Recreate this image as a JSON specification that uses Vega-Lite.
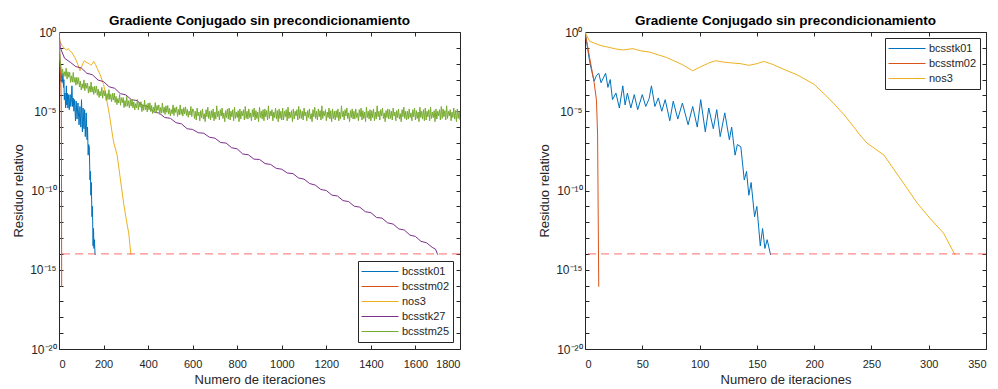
{
  "$schema": "https://vega.github.io/schema/vega-lite/v6.json",
  "padding": {"left": 12, "top": 13, "right": 0, "bottom": 0},
  "background": "white",
  "datasets": {
    "tol": [{"tol": 1e-14}],
    "res": [
      {"serie": "bcsstk01", "it": 0, "res": 1},
      {"serie": "bcsstk01", "it": 2, "res": 0.126},
      {"serie": "bcsstk01", "it": 4, "res": 1.4e-2},
      {"serie": "bcsstk01", "it": 6, "res": 3.2e-3},
      {"serie": "bcsstk01", "it": 8, "res": 7.9e-4},
      {"serie": "bcsstk01", "it": 10, "res": 1.8e-3},
      {"serie": "bcsstk01", "it": 12, "res": 2.5e-3},
      {"serie": "bcsstk01", "it": 14, "res": 6.3e-4},
      {"serie": "bcsstk01", "it": 16, "res": 1.26e-3},
      {"serie": "bcsstk01", "it": 18, "res": 2.5e-3},
      {"serie": "bcsstk01", "it": 20, "res": 3.2e-4},
      {"serie": "bcsstk01", "it": 22, "res": 1.0e-3},
      {"serie": "bcsstk01", "it": 24, "res": 5.4e-5},
      {"serie": "bcsstk01", "it": 27, "res": 1.4e-4},
      {"serie": "bcsstk01", "it": 30, "res": 1.6e-5},
      {"serie": "bcsstk01", "it": 33, "res": 4.0e-4},
      {"serie": "bcsstk01", "it": 35, "res": 2.5e-5},
      {"serie": "bcsstk01", "it": 37, "res": 1.4e-4},
      {"serie": "bcsstk01", "it": 40, "res": 1.6e-5},
      {"serie": "bcsstk01", "it": 43, "res": 1.12e-4},
      {"serie": "bcsstk01", "it": 46, "res": 1.26e-5},
      {"serie": "bcsstk01", "it": 50, "res": 1.12e-4},
      {"serie": "bcsstk01", "it": 53, "res": 2.0e-5},
      {"serie": "bcsstk01", "it": 56, "res": 6.3e-5},
      {"serie": "bcsstk01", "it": 58, "res": 4.0e-4},
      {"serie": "bcsstk01", "it": 61, "res": 2.0e-5},
      {"serie": "bcsstk01", "it": 64, "res": 6.9e-5},
      {"serie": "bcsstk01", "it": 67, "res": 1.0e-5},
      {"serie": "bcsstk01", "it": 70, "res": 5.4e-5},
      {"serie": "bcsstk01", "it": 74, "res": 2.5e-6},
      {"serie": "bcsstk01", "it": 77, "res": 4.3e-5},
      {"serie": "bcsstk01", "it": 81, "res": 3.2e-6},
      {"serie": "bcsstk01", "it": 85, "res": 3.3e-5},
      {"serie": "bcsstk01", "it": 90, "res": 1.4e-6},
      {"serie": "bcsstk01", "it": 94, "res": 2.0e-5},
      {"serie": "bcsstk01", "it": 98, "res": 1.0e-6},
      {"serie": "bcsstk01", "it": 101, "res": 5.4e-5},
      {"serie": "bcsstk01", "it": 105, "res": 5.0e-7},
      {"serie": "bcsstk01", "it": 108, "res": 1.6e-5},
      {"serie": "bcsstk01", "it": 112, "res": 7.9e-7},
      {"serie": "bcsstk01", "it": 115, "res": 1.26e-5},
      {"serie": "bcsstk01", "it": 118, "res": 2.5e-7},
      {"serie": "bcsstk01", "it": 122, "res": 7.9e-6},
      {"serie": "bcsstk01", "it": 126, "res": 1.6e-7},
      {"serie": "bcsstk01", "it": 128, "res": 1.0e-6},
      {"serie": "bcsstk01", "it": 131, "res": 1.7e-8},
      {"serie": "bcsstk01", "it": 133, "res": 7.9e-8},
      {"serie": "bcsstk01", "it": 136, "res": 5.8e-8},
      {"serie": "bcsstk01", "it": 139, "res": 4.6e-10},
      {"serie": "bcsstk01", "it": 141, "res": 1.6e-9},
      {"serie": "bcsstk01", "it": 143, "res": 5.0e-11},
      {"serie": "bcsstk01", "it": 145, "res": 3.2e-10},
      {"serie": "bcsstk01", "it": 148, "res": 2.2e-12},
      {"serie": "bcsstk01", "it": 150, "res": 1.0e-11},
      {"serie": "bcsstk01", "it": 153, "res": 3.2e-14},
      {"serie": "bcsstk01", "it": 155, "res": 4.0e-13},
      {"serie": "bcsstk01", "it": 157, "res": 2.2e-14},
      {"serie": "bcsstk01", "it": 159, "res": 7.9e-14},
      {"serie": "bcsstk01", "it": 162, "res": 8.5e-15},
      {"serie": "bcsstm02", "it": 0, "res": 1},
      {"serie": "bcsstm02", "it": 2, "res": 0.16},
      {"serie": "bcsstm02", "it": 4, "res": 2.5e-2},
      {"serie": "bcsstm02", "it": 6, "res": 4.0e-3},
      {"serie": "bcsstm02", "it": 8, "res": 6.3e-4},
      {"serie": "bcsstm02", "it": 10, "res": 5.0e-5},
      {"serie": "bcsstm02", "it": 11, "res": 3.2e-7},
      {"serie": "bcsstm02", "it": 12, "res": 8.5e-17},
      {"serie": "nos3", "it": 0, "res": 1},
      {"serie": "nos3", "it": 4, "res": 0.26},
      {"serie": "nos3", "it": 13, "res": 0.145},
      {"serie": "nos3", "it": 27, "res": 8.5e-2},
      {"serie": "nos3", "it": 33, "res": 7.4e-2},
      {"serie": "nos3", "it": 42, "res": 8.9e-2},
      {"serie": "nos3", "it": 48, "res": 6.6e-2},
      {"serie": "nos3", "it": 56, "res": 5.5e-2},
      {"serie": "nos3", "it": 71, "res": 2.5e-2},
      {"serie": "nos3", "it": 85, "res": 8.7e-3},
      {"serie": "nos3", "it": 94, "res": 3.6e-3},
      {"serie": "nos3", "it": 100, "res": 5.9e-3},
      {"serie": "nos3", "it": 108, "res": 1.1e-2},
      {"serie": "nos3", "it": 114, "res": 1.55e-2},
      {"serie": "nos3", "it": 121, "res": 1.26e-2},
      {"serie": "nos3", "it": 129, "res": 1.1e-2},
      {"serie": "nos3", "it": 136, "res": 1.0e-2},
      {"serie": "nos3", "it": 143, "res": 7.9e-3},
      {"serie": "nos3", "it": 150, "res": 1.0e-2},
      {"serie": "nos3", "it": 156, "res": 1.4e-2},
      {"serie": "nos3", "it": 164, "res": 8.9e-3},
      {"serie": "nos3", "it": 172, "res": 4.9e-3},
      {"serie": "nos3", "it": 185, "res": 2.0e-3},
      {"serie": "nos3", "it": 200, "res": 5.0e-4},
      {"serie": "nos3", "it": 213, "res": 6.3e-5},
      {"serie": "nos3", "it": 226, "res": 6.3e-6},
      {"serie": "nos3", "it": 240, "res": 3.2e-7},
      {"serie": "nos3", "it": 246, "res": 1.0e-7},
      {"serie": "nos3", "it": 261, "res": 1.7e-8},
      {"serie": "nos3", "it": 267, "res": 4.0e-9},
      {"serie": "nos3", "it": 281, "res": 1.4e-10},
      {"serie": "nos3", "it": 290, "res": 1.6e-11},
      {"serie": "nos3", "it": 301, "res": 1.8e-12},
      {"serie": "nos3", "it": 313, "res": 2.0e-13},
      {"serie": "nos3", "it": 323, "res": 8.5e-15},
      {"serie": "bcsstk27", "it": 0, "res": 1},
      {"serie": "bcsstk27", "it": 6, "res": 0.1},
      {"serie": "bcsstk27", "it": 25, "res": 2.2e-2},
      {"serie": "bcsstk27", "it": 50, "res": 1.26e-2},
      {"serie": "bcsstk27", "it": 75, "res": 6.6e-3},
      {"serie": "bcsstk27", "it": 100, "res": 5.4e-3},
      {"serie": "bcsstk27", "it": 125, "res": 2.5e-3},
      {"serie": "bcsstk27", "it": 150, "res": 2.0e-3},
      {"serie": "bcsstk27", "it": 175, "res": 9.3e-4},
      {"serie": "bcsstk27", "it": 200, "res": 7.4e-4},
      {"serie": "bcsstk27", "it": 225, "res": 3.5e-4},
      {"serie": "bcsstk27", "it": 250, "res": 2.8e-4},
      {"serie": "bcsstk27", "it": 275, "res": 1.3e-4},
      {"serie": "bcsstk27", "it": 300, "res": 1.07e-4},
      {"serie": "bcsstk27", "it": 325, "res": 5.4e-5},
      {"serie": "bcsstk27", "it": 350, "res": 4.7e-5},
      {"serie": "bcsstk27", "it": 375, "res": 2.4e-5},
      {"serie": "bcsstk27", "it": 400, "res": 1.95e-5},
      {"serie": "bcsstk27", "it": 425, "res": 9.1e-6},
      {"serie": "bcsstk27", "it": 450, "res": 7.6e-6},
      {"serie": "bcsstk27", "it": 475, "res": 4.0e-6},
      {"serie": "bcsstk27", "it": 500, "res": 3.6e-6},
      {"serie": "bcsstk27", "it": 525, "res": 1.9e-6},
      {"serie": "bcsstk27", "it": 550, "res": 1.6e-6},
      {"serie": "bcsstk27", "it": 575, "res": 7.9e-7},
      {"serie": "bcsstk27", "it": 600, "res": 7.1e-7},
      {"serie": "bcsstk27", "it": 625, "res": 4.4e-7},
      {"serie": "bcsstk27", "it": 650, "res": 4.1e-7},
      {"serie": "bcsstk27", "it": 675, "res": 2.3e-7},
      {"serie": "bcsstk27", "it": 700, "res": 2.0e-7},
      {"serie": "bcsstk27", "it": 725, "res": 1.07e-7},
      {"serie": "bcsstk27", "it": 750, "res": 9.8e-8},
      {"serie": "bcsstk27", "it": 775, "res": 5.0e-8},
      {"serie": "bcsstk27", "it": 800, "res": 4.2e-8},
      {"serie": "bcsstk27", "it": 825, "res": 2.0e-8},
      {"serie": "bcsstk27", "it": 850, "res": 1.8e-8},
      {"serie": "bcsstk27", "it": 875, "res": 9.5e-9},
      {"serie": "bcsstk27", "it": 900, "res": 9.1e-9},
      {"serie": "bcsstk27", "it": 925, "res": 5.0e-9},
      {"serie": "bcsstk27", "it": 950, "res": 4.4e-9},
      {"serie": "bcsstk27", "it": 975, "res": 2.5e-9},
      {"serie": "bcsstk27", "it": 1000, "res": 2.2e-9},
      {"serie": "bcsstk27", "it": 1025, "res": 1.26e-9},
      {"serie": "bcsstk27", "it": 1050, "res": 1.17e-9},
      {"serie": "bcsstk27", "it": 1075, "res": 6.2e-10},
      {"serie": "bcsstk27", "it": 1100, "res": 5.2e-10},
      {"serie": "bcsstk27", "it": 1125, "res": 2.75e-10},
      {"serie": "bcsstk27", "it": 1150, "res": 2.2e-10},
      {"serie": "bcsstk27", "it": 1175, "res": 1.17e-10},
      {"serie": "bcsstk27", "it": 1200, "res": 1.0e-10},
      {"serie": "bcsstk27", "it": 1225, "res": 5.1e-11},
      {"serie": "bcsstk27", "it": 1250, "res": 4.5e-11},
      {"serie": "bcsstk27", "it": 1275, "res": 2.3e-11},
      {"serie": "bcsstk27", "it": 1300, "res": 2.0e-11},
      {"serie": "bcsstk27", "it": 1325, "res": 1.02e-11},
      {"serie": "bcsstk27", "it": 1350, "res": 8.9e-12},
      {"serie": "bcsstk27", "it": 1375, "res": 4.6e-12},
      {"serie": "bcsstk27", "it": 1400, "res": 4.0e-12},
      {"serie": "bcsstk27", "it": 1425, "res": 2.0e-12},
      {"serie": "bcsstk27", "it": 1450, "res": 1.8e-12},
      {"serie": "bcsstk27", "it": 1475, "res": 9.1e-13},
      {"serie": "bcsstk27", "it": 1500, "res": 7.6e-13},
      {"serie": "bcsstk27", "it": 1525, "res": 3.8e-13},
      {"serie": "bcsstk27", "it": 1550, "res": 3.2e-13},
      {"serie": "bcsstk27", "it": 1575, "res": 1.55e-13},
      {"serie": "bcsstk27", "it": 1600, "res": 1.26e-13},
      {"serie": "bcsstk27", "it": 1625, "res": 6.2e-14},
      {"serie": "bcsstk27", "it": 1650, "res": 5.0e-14},
      {"serie": "bcsstk27", "it": 1675, "res": 2.6e-14},
      {"serie": "bcsstk27", "it": 1690, "res": 2.0e-14},
      {"serie": "bcsstk27", "it": 1700, "res": 8.9e-15},
      {"serie": "bcsstm25", "it": 0, "res": 1},
      {"serie": "bcsstm25", "it": 4, "res": 2.0e-2},
      {"serie": "bcsstm25", "it": 8, "res": 7.9e-3},
      {"serie": "bcsstm25", "it": 12, "res": 2.0e-3},
      {"serie": "bcsstm25", "it": 16, "res": 4.7e-3},
      {"serie": "bcsstm25", "it": 20, "res": 1.35e-3},
      {"serie": "bcsstm25", "it": 24, "res": 3.1e-3},
      {"serie": "bcsstm25", "it": 28, "res": 1.6e-3},
      {"serie": "bcsstm25", "it": 32, "res": 5.2e-3},
      {"serie": "bcsstm25", "it": 36, "res": 1.07e-3},
      {"serie": "bcsstm25", "it": 40, "res": 3.1e-3},
      {"serie": "bcsstm25", "it": 44, "res": 1.4e-3},
      {"serie": "bcsstm25", "it": 48, "res": 2.9e-3},
      {"serie": "bcsstm25", "it": 52, "res": 6.6e-4},
      {"serie": "bcsstm25", "it": 56, "res": 1.7e-3},
      {"serie": "bcsstm25", "it": 60, "res": 6.9e-4},
      {"serie": "bcsstm25", "it": 64, "res": 2.8e-3},
      {"serie": "bcsstm25", "it": 68, "res": 6.6e-4},
      {"serie": "bcsstm25", "it": 72, "res": 1.35e-3},
      {"serie": "bcsstm25", "it": 76, "res": 4.4e-4},
      {"serie": "bcsstm25", "it": 80, "res": 1.4e-3},
      {"serie": "bcsstm25", "it": 84, "res": 5.1e-4},
      {"serie": "bcsstm25", "it": 88, "res": 1.3e-3},
      {"serie": "bcsstm25", "it": 92, "res": 3.4e-4},
      {"serie": "bcsstm25", "it": 96, "res": 7.8e-4},
      {"serie": "bcsstm25", "it": 100, "res": 2.2e-4},
      {"serie": "bcsstm25", "it": 104, "res": 5.4e-4},
      {"serie": "bcsstm25", "it": 108, "res": 2.8e-4},
      {"serie": "bcsstm25", "it": 112, "res": 9.5e-4},
      {"serie": "bcsstm25", "it": 116, "res": 2.0e-4},
      {"serie": "bcsstm25", "it": 120, "res": 6.0e-4},
      {"serie": "bcsstm25", "it": 124, "res": 2.8e-4},
      {"serie": "bcsstm25", "it": 128, "res": 6.0e-4},
      {"serie": "bcsstm25", "it": 132, "res": 1.4e-4},
      {"serie": "bcsstm25", "it": 136, "res": 3.8e-4},
      {"serie": "bcsstm25", "it": 140, "res": 1.6e-4},
      {"serie": "bcsstm25", "it": 144, "res": 6.9e-4},
      {"serie": "bcsstm25", "it": 148, "res": 1.6e-4},
      {"serie": "bcsstm25", "it": 152, "res": 3.5e-4},
      {"serie": "bcsstm25", "it": 156, "res": 1.15e-4},
      {"serie": "bcsstm25", "it": 160, "res": 3.9e-4},
      {"serie": "bcsstm25", "it": 164, "res": 1.45e-4},
      {"serie": "bcsstm25", "it": 168, "res": 3.9e-4},
      {"serie": "bcsstm25", "it": 172, "res": 1.02e-4},
      {"serie": "bcsstm25", "it": 176, "res": 2.5e-4},
      {"serie": "bcsstm25", "it": 180, "res": 7.4e-5},
      {"serie": "bcsstm25", "it": 184, "res": 1.8e-4},
      {"serie": "bcsstm25", "it": 188, "res": 9.3e-5},
      {"serie": "bcsstm25", "it": 192, "res": 3.2e-4},
      {"serie": "bcsstm25", "it": 196, "res": 6.6e-5},
      {"serie": "bcsstm25", "it": 200, "res": 2.0e-4},
      {"serie": "bcsstm25", "it": 204, "res": 9.5e-5},
      {"serie": "bcsstm25", "it": 208, "res": 2.0e-4},
      {"serie": "bcsstm25", "it": 212, "res": 4.8e-5},
      {"serie": "bcsstm25", "it": 216, "res": 1.3e-4},
      {"serie": "bcsstm25", "it": 220, "res": 5.5e-5},
      {"serie": "bcsstm25", "it": 224, "res": 2.3e-4},
      {"serie": "bcsstm25", "it": 228, "res": 5.5e-5},
      {"serie": "bcsstm25", "it": 232, "res": 1.17e-4},
      {"serie": "bcsstm25", "it": 236, "res": 4.0e-5},
      {"serie": "bcsstm25", "it": 240, "res": 1.35e-4},
      {"serie": "bcsstm25", "it": 244, "res": 5.1e-5},
      {"serie": "bcsstm25", "it": 248, "res": 1.4e-4},
      {"serie": "bcsstm25", "it": 252, "res": 3.6e-5},
      {"serie": "bcsstm25", "it": 256, "res": 8.7e-5},
      {"serie": "bcsstm25", "it": 260, "res": 2.6e-5},
      {"serie": "bcsstm25", "it": 264, "res": 6.3e-5},
      {"serie": "bcsstm25", "it": 268, "res": 3.3e-5},
      {"serie": "bcsstm25", "it": 272, "res": 1.12e-4},
      {"serie": "bcsstm25", "it": 276, "res": 2.4e-5},
      {"serie": "bcsstm25", "it": 280, "res": 7.2e-5},
      {"serie": "bcsstm25", "it": 284, "res": 3.5e-5},
      {"serie": "bcsstm25", "it": 288, "res": 7.4e-5},
      {"serie": "bcsstm25", "it": 292, "res": 1.7e-5},
      {"serie": "bcsstm25", "it": 296, "res": 4.7e-5},
      {"serie": "bcsstm25", "it": 300, "res": 2.0e-5},
      {"serie": "bcsstm25", "it": 304, "res": 8.7e-5},
      {"serie": "bcsstm25", "it": 308, "res": 2.1e-5},
      {"serie": "bcsstm25", "it": 312, "res": 4.6e-5},
      {"serie": "bcsstm25", "it": 316, "res": 1.6e-5},
      {"serie": "bcsstm25", "it": 320, "res": 5.5e-5},
      {"serie": "bcsstm25", "it": 324, "res": 2.1e-5},
      {"serie": "bcsstm25", "it": 328, "res": 5.9e-5},
      {"serie": "bcsstm25", "it": 332, "res": 1.6e-5},
      {"serie": "bcsstm25", "it": 336, "res": 3.9e-5},
      {"serie": "bcsstm25", "it": 340, "res": 1.2e-5},
      {"serie": "bcsstm25", "it": 344, "res": 3.0e-5},
      {"serie": "bcsstm25", "it": 348, "res": 1.6e-5},
      {"serie": "bcsstm25", "it": 352, "res": 5.5e-5},
      {"serie": "bcsstm25", "it": 356, "res": 1.2e-5},
      {"serie": "bcsstm25", "it": 360, "res": 3.7e-5},
      {"serie": "bcsstm25", "it": 364, "res": 1.8e-5},
      {"serie": "bcsstm25", "it": 368, "res": 4.0e-5},
      {"serie": "bcsstm25", "it": 372, "res": 9.5e-6},
      {"serie": "bcsstm25", "it": 376, "res": 2.6e-5},
      {"serie": "bcsstm25", "it": 380, "res": 1.15e-5},
      {"serie": "bcsstm25", "it": 384, "res": 5.0e-5},
      {"serie": "bcsstm25", "it": 388, "res": 1.23e-5},
      {"serie": "bcsstm25", "it": 392, "res": 2.6e-5},
      {"serie": "bcsstm25", "it": 396, "res": 9.1e-6},
      {"serie": "bcsstm25", "it": 400, "res": 3.2e-5},
      {"serie": "bcsstm25", "it": 404, "res": 1.23e-5},
      {"serie": "bcsstm25", "it": 408, "res": 3.4e-5},
      {"serie": "bcsstm25", "it": 412, "res": 9.5e-6},
      {"serie": "bcsstm25", "it": 416, "res": 2.3e-5},
      {"serie": "bcsstm25", "it": 420, "res": 7.2e-6},
      {"serie": "bcsstm25", "it": 424, "res": 1.8e-5},
      {"serie": "bcsstm25", "it": 428, "res": 9.8e-6},
      {"serie": "bcsstm25", "it": 432, "res": 3.5e-5},
      {"serie": "bcsstm25", "it": 436, "res": 7.6e-6},
      {"serie": "bcsstm25", "it": 440, "res": 2.3e-5},
      {"serie": "bcsstm25", "it": 444, "res": 1.15e-5},
      {"serie": "bcsstm25", "it": 448, "res": 2.5e-5},
      {"serie": "bcsstm25", "it": 452, "res": 6.3e-6},
      {"serie": "bcsstm25", "it": 456, "res": 1.7e-5},
      {"serie": "bcsstm25", "it": 460, "res": 7.6e-6},
      {"serie": "bcsstm25", "it": 464, "res": 3.3e-5},
      {"serie": "bcsstm25", "it": 468, "res": 8.1e-6},
      {"serie": "bcsstm25", "it": 472, "res": 1.8e-5},
      {"serie": "bcsstm25", "it": 476, "res": 6.3e-6},
      {"serie": "bcsstm25", "it": 480, "res": 2.2e-5},
      {"serie": "bcsstm25", "it": 484, "res": 8.5e-6},
      {"serie": "bcsstm25", "it": 488, "res": 2.3e-5},
      {"serie": "bcsstm25", "it": 492, "res": 6.6e-6},
      {"serie": "bcsstm25", "it": 496, "res": 1.6e-5},
      {"serie": "bcsstm25", "it": 500, "res": 5.0e-6},
      {"serie": "bcsstm25", "it": 504, "res": 1.26e-5},
      {"serie": "bcsstm25", "it": 508, "res": 6.9e-6},
      {"serie": "bcsstm25", "it": 512, "res": 2.5e-5},
      {"serie": "bcsstm25", "it": 516, "res": 5.4e-6},
      {"serie": "bcsstm25", "it": 520, "res": 1.7e-5},
      {"serie": "bcsstm25", "it": 524, "res": 8.3e-6},
      {"serie": "bcsstm25", "it": 528, "res": 1.9e-5},
      {"serie": "bcsstm25", "it": 532, "res": 4.7e-6},
      {"serie": "bcsstm25", "it": 536, "res": 1.3e-5},
      {"serie": "bcsstm25", "it": 540, "res": 5.8e-6},
      {"serie": "bcsstm25", "it": 544, "res": 2.5e-5},
      {"serie": "bcsstm25", "it": 548, "res": 6.3e-6},
      {"serie": "bcsstm25", "it": 552, "res": 1.4e-5},
      {"serie": "bcsstm25", "it": 556, "res": 4.9e-6},
      {"serie": "bcsstm25", "it": 560, "res": 1.7e-5},
      {"serie": "bcsstm25", "it": 564, "res": 6.8e-6},
      {"serie": "bcsstm25", "it": 568, "res": 1.9e-5},
      {"serie": "bcsstm25", "it": 572, "res": 5.4e-6},
      {"serie": "bcsstm25", "it": 576, "res": 1.3e-5},
      {"serie": "bcsstm25", "it": 580, "res": 4.2e-6},
      {"serie": "bcsstm25", "it": 584, "res": 1.02e-5},
      {"serie": "bcsstm25", "it": 588, "res": 5.8e-6},
      {"serie": "bcsstm25", "it": 592, "res": 2.0e-5},
      {"serie": "bcsstm25", "it": 596, "res": 4.6e-6},
      {"serie": "bcsstm25", "it": 600, "res": 1.4e-5},
      {"serie": "bcsstm25", "it": 604, "res": 1.26e-5},
      {"serie": "bcsstm25", "it": 608, "res": 3.5e-6},
      {"serie": "bcsstm25", "it": 612, "res": 1.0e-5},
      {"serie": "bcsstm25", "it": 616, "res": 2.8e-6},
      {"serie": "bcsstm25", "it": 620, "res": 1.6e-5},
      {"serie": "bcsstm25", "it": 624, "res": 5.0e-6},
      {"serie": "bcsstm25", "it": 628, "res": 8.9e-6},
      {"serie": "bcsstm25", "it": 632, "res": 2.5e-6},
      {"serie": "bcsstm25", "it": 636, "res": 1.1e-5},
      {"serie": "bcsstm25", "it": 640, "res": 4.0e-6},
      {"serie": "bcsstm25", "it": 644, "res": 1.4e-5},
      {"serie": "bcsstm25", "it": 648, "res": 3.2e-6},
      {"serie": "bcsstm25", "it": 652, "res": 7.1e-6},
      {"serie": "bcsstm25", "it": 656, "res": 2.2e-6},
      {"serie": "bcsstm25", "it": 660, "res": 1.26e-5},
      {"serie": "bcsstm25", "it": 664, "res": 4.5e-6},
      {"serie": "bcsstm25", "it": 668, "res": 1.8e-5},
      {"serie": "bcsstm25", "it": 672, "res": 3.5e-6},
      {"serie": "bcsstm25", "it": 676, "res": 1.0e-5},
      {"serie": "bcsstm25", "it": 680, "res": 2.8e-6},
      {"serie": "bcsstm25", "it": 684, "res": 1.1e-5},
      {"serie": "bcsstm25", "it": 688, "res": 4.0e-6},
      {"serie": "bcsstm25", "it": 692, "res": 1.4e-5},
      {"serie": "bcsstm25", "it": 696, "res": 2.5e-6},
      {"serie": "bcsstm25", "it": 700, "res": 8.9e-6},
      {"serie": "bcsstm25", "it": 704, "res": 3.2e-6},
      {"serie": "bcsstm25", "it": 708, "res": 2.2e-5},
      {"serie": "bcsstm25", "it": 712, "res": 4.5e-6},
      {"serie": "bcsstm25", "it": 716, "res": 1.0e-5},
      {"serie": "bcsstm25", "it": 720, "res": 2.8e-6},
      {"serie": "bcsstm25", "it": 724, "res": 1.26e-5},
      {"serie": "bcsstm25", "it": 728, "res": 5.0e-6},
      {"serie": "bcsstm25", "it": 732, "res": 1.6e-5},
      {"serie": "bcsstm25", "it": 736, "res": 3.5e-6},
      {"serie": "bcsstm25", "it": 740, "res": 7.9e-6},
      {"serie": "bcsstm25", "it": 744, "res": 2.2e-6},
      {"serie": "bcsstm25", "it": 748, "res": 1.1e-5},
      {"serie": "bcsstm25", "it": 752, "res": 4.0e-6},
      {"serie": "bcsstm25", "it": 756, "res": 1.4e-5},
      {"serie": "bcsstm25", "it": 760, "res": 3.2e-6},
      {"serie": "bcsstm25", "it": 764, "res": 1.6e-5},
      {"serie": "bcsstm25", "it": 768, "res": 2.8e-6},
      {"serie": "bcsstm25", "it": 772, "res": 1.0e-5},
      {"serie": "bcsstm25", "it": 776, "res": 4.5e-6},
      {"serie": "bcsstm25", "it": 780, "res": 1.26e-5},
      {"serie": "bcsstm25", "it": 784, "res": 2.5e-6},
      {"serie": "bcsstm25", "it": 788, "res": 1.8e-5},
      {"serie": "bcsstm25", "it": 792, "res": 3.5e-6},
      {"serie": "bcsstm25", "it": 796, "res": 8.9e-6},
      {"serie": "bcsstm25", "it": 800, "res": 4.0e-6},
      {"serie": "bcsstm25", "it": 804, "res": 1.1e-5},
      {"serie": "bcsstm25", "it": 808, "res": 2.2e-6},
      {"serie": "bcsstm25", "it": 812, "res": 1.4e-5},
      {"serie": "bcsstm25", "it": 816, "res": 3.2e-6},
      {"serie": "bcsstm25", "it": 820, "res": 1.0e-5},
      {"serie": "bcsstm25", "it": 824, "res": 5.0e-6},
      {"serie": "bcsstm25", "it": 828, "res": 1.26e-5},
      {"serie": "bcsstm25", "it": 832, "res": 2.8e-6},
      {"serie": "bcsstm25", "it": 836, "res": 2.0e-5},
      {"serie": "bcsstm25", "it": 840, "res": 3.5e-6},
      {"serie": "bcsstm25", "it": 844, "res": 1.0e-5},
      {"serie": "bcsstm25", "it": 848, "res": 3.2e-6},
      {"serie": "bcsstm25", "it": 852, "res": 1.4e-5},
      {"serie": "bcsstm25", "it": 856, "res": 4.0e-6},
      {"serie": "bcsstm25", "it": 860, "res": 7.9e-6},
      {"serie": "bcsstm25", "it": 864, "res": 2.5e-6},
      {"serie": "bcsstm25", "it": 868, "res": 1.26e-5},
      {"serie": "bcsstm25", "it": 872, "res": 4.5e-6},
      {"serie": "bcsstm25", "it": 876, "res": 1.6e-5},
      {"serie": "bcsstm25", "it": 880, "res": 2.8e-6},
      {"serie": "bcsstm25", "it": 884, "res": 1.1e-5},
      {"serie": "bcsstm25", "it": 888, "res": 3.5e-6},
      {"serie": "bcsstm25", "it": 892, "res": 8.9e-6},
      {"serie": "bcsstm25", "it": 896, "res": 2.2e-6},
      {"serie": "bcsstm25", "it": 900, "res": 1.8e-5},
      {"serie": "bcsstm25", "it": 904, "res": 4.0e-6},
      {"serie": "bcsstm25", "it": 908, "res": 1.0e-5},
      {"serie": "bcsstm25", "it": 912, "res": 3.2e-6},
      {"serie": "bcsstm25", "it": 916, "res": 1.26e-5},
      {"serie": "bcsstm25", "it": 920, "res": 2.5e-6},
      {"serie": "bcsstm25", "it": 924, "res": 1.4e-5},
      {"serie": "bcsstm25", "it": 928, "res": 4.5e-6},
      {"serie": "bcsstm25", "it": 932, "res": 1.1e-5},
      {"serie": "bcsstm25", "it": 936, "res": 2.8e-6},
      {"serie": "bcsstm25", "it": 940, "res": 2.2e-5},
      {"serie": "bcsstm25", "it": 944, "res": 3.5e-6},
      {"serie": "bcsstm25", "it": 948, "res": 1.0e-5},
      {"serie": "bcsstm25", "it": 952, "res": 5.0e-6},
      {"serie": "bcsstm25", "it": 956, "res": 1.26e-5},
      {"serie": "bcsstm25", "it": 960, "res": 2.5e-6},
      {"serie": "bcsstm25", "it": 964, "res": 8.9e-6},
      {"serie": "bcsstm25", "it": 968, "res": 4.0e-6},
      {"serie": "bcsstm25", "it": 972, "res": 1.6e-5},
      {"serie": "bcsstm25", "it": 976, "res": 3.2e-6},
      {"serie": "bcsstm25", "it": 980, "res": 1.1e-5},
      {"serie": "bcsstm25", "it": 984, "res": 2.2e-6},
      {"serie": "bcsstm25", "it": 988, "res": 1.4e-5},
      {"serie": "bcsstm25", "it": 992, "res": 3.5e-6},
      {"serie": "bcsstm25", "it": 996, "res": 1.0e-5},
      {"serie": "bcsstm25", "it": 1000, "res": 2.8e-6},
      {"serie": "bcsstm25", "it": 1004, "res": 1.6e-5},
      {"serie": "bcsstm25", "it": 1008, "res": 2.8e-6},
      {"serie": "bcsstm25", "it": 1012, "res": 1.0e-5},
      {"serie": "bcsstm25", "it": 1016, "res": 4.5e-6},
      {"serie": "bcsstm25", "it": 1020, "res": 1.26e-5},
      {"serie": "bcsstm25", "it": 1024, "res": 2.5e-6},
      {"serie": "bcsstm25", "it": 1028, "res": 1.8e-5},
      {"serie": "bcsstm25", "it": 1032, "res": 3.5e-6},
      {"serie": "bcsstm25", "it": 1036, "res": 8.9e-6},
      {"serie": "bcsstm25", "it": 1040, "res": 4.0e-6},
      {"serie": "bcsstm25", "it": 1044, "res": 1.1e-5},
      {"serie": "bcsstm25", "it": 1048, "res": 2.2e-6},
      {"serie": "bcsstm25", "it": 1052, "res": 1.4e-5},
      {"serie": "bcsstm25", "it": 1056, "res": 3.2e-6},
      {"serie": "bcsstm25", "it": 1060, "res": 1.0e-5},
      {"serie": "bcsstm25", "it": 1064, "res": 5.0e-6},
      {"serie": "bcsstm25", "it": 1068, "res": 1.26e-5},
      {"serie": "bcsstm25", "it": 1072, "res": 2.8e-6},
      {"serie": "bcsstm25", "it": 1076, "res": 2.0e-5},
      {"serie": "bcsstm25", "it": 1080, "res": 3.5e-6},
      {"serie": "bcsstm25", "it": 1084, "res": 1.26e-5},
      {"serie": "bcsstm25", "it": 1088, "res": 3.5e-6},
      {"serie": "bcsstm25", "it": 1092, "res": 1.0e-5},
      {"serie": "bcsstm25", "it": 1096, "res": 2.8e-6},
      {"serie": "bcsstm25", "it": 1100, "res": 1.6e-5},
      {"serie": "bcsstm25", "it": 1104, "res": 5.0e-6},
      {"serie": "bcsstm25", "it": 1108, "res": 8.9e-6},
      {"serie": "bcsstm25", "it": 1112, "res": 2.5e-6},
      {"serie": "bcsstm25", "it": 1116, "res": 1.1e-5},
      {"serie": "bcsstm25", "it": 1120, "res": 4.0e-6},
      {"serie": "bcsstm25", "it": 1124, "res": 1.4e-5},
      {"serie": "bcsstm25", "it": 1128, "res": 3.2e-6},
      {"serie": "bcsstm25", "it": 1132, "res": 7.1e-6},
      {"serie": "bcsstm25", "it": 1136, "res": 2.2e-6},
      {"serie": "bcsstm25", "it": 1140, "res": 1.26e-5},
      {"serie": "bcsstm25", "it": 1144, "res": 4.5e-6},
      {"serie": "bcsstm25", "it": 1148, "res": 1.8e-5},
      {"serie": "bcsstm25", "it": 1152, "res": 3.5e-6},
      {"serie": "bcsstm25", "it": 1156, "res": 1.0e-5},
      {"serie": "bcsstm25", "it": 1160, "res": 2.8e-6},
      {"serie": "bcsstm25", "it": 1164, "res": 1.4e-5},
      {"serie": "bcsstm25", "it": 1168, "res": 4.5e-6},
      {"serie": "bcsstm25", "it": 1172, "res": 1.1e-5},
      {"serie": "bcsstm25", "it": 1176, "res": 2.8e-6},
      {"serie": "bcsstm25", "it": 1180, "res": 2.2e-5},
      {"serie": "bcsstm25", "it": 1184, "res": 3.5e-6},
      {"serie": "bcsstm25", "it": 1188, "res": 1.0e-5},
      {"serie": "bcsstm25", "it": 1192, "res": 5.0e-6},
      {"serie": "bcsstm25", "it": 1196, "res": 1.26e-5},
      {"serie": "bcsstm25", "it": 1200, "res": 2.5e-6},
      {"serie": "bcsstm25", "it": 1204, "res": 8.9e-6},
      {"serie": "bcsstm25", "it": 1208, "res": 4.0e-6},
      {"serie": "bcsstm25", "it": 1212, "res": 1.6e-5},
      {"serie": "bcsstm25", "it": 1216, "res": 3.2e-6},
      {"serie": "bcsstm25", "it": 1220, "res": 1.1e-5},
      {"serie": "bcsstm25", "it": 1224, "res": 2.2e-6},
      {"serie": "bcsstm25", "it": 1228, "res": 1.4e-5},
      {"serie": "bcsstm25", "it": 1232, "res": 3.5e-6},
      {"serie": "bcsstm25", "it": 1236, "res": 1.0e-5},
      {"serie": "bcsstm25", "it": 1240, "res": 2.8e-6},
      {"serie": "bcsstm25", "it": 1244, "res": 1.1e-5},
      {"serie": "bcsstm25", "it": 1248, "res": 4.0e-6},
      {"serie": "bcsstm25", "it": 1252, "res": 1.4e-5},
      {"serie": "bcsstm25", "it": 1256, "res": 2.5e-6},
      {"serie": "bcsstm25", "it": 1260, "res": 8.9e-6},
      {"serie": "bcsstm25", "it": 1264, "res": 3.2e-6},
      {"serie": "bcsstm25", "it": 1268, "res": 2.2e-5},
      {"serie": "bcsstm25", "it": 1272, "res": 4.5e-6},
      {"serie": "bcsstm25", "it": 1276, "res": 1.0e-5},
      {"serie": "bcsstm25", "it": 1280, "res": 2.8e-6},
      {"serie": "bcsstm25", "it": 1284, "res": 1.26e-5},
      {"serie": "bcsstm25", "it": 1288, "res": 5.0e-6},
      {"serie": "bcsstm25", "it": 1292, "res": 1.6e-5},
      {"serie": "bcsstm25", "it": 1296, "res": 3.5e-6},
      {"serie": "bcsstm25", "it": 1300, "res": 7.9e-6},
      {"serie": "bcsstm25", "it": 1304, "res": 2.2e-6},
      {"serie": "bcsstm25", "it": 1308, "res": 1.1e-5},
      {"serie": "bcsstm25", "it": 1312, "res": 4.0e-6},
      {"serie": "bcsstm25", "it": 1316, "res": 1.4e-5},
      {"serie": "bcsstm25", "it": 1320, "res": 3.2e-6},
      {"serie": "bcsstm25", "it": 1324, "res": 1.0e-5},
      {"serie": "bcsstm25", "it": 1328, "res": 3.2e-6},
      {"serie": "bcsstm25", "it": 1332, "res": 1.4e-5},
      {"serie": "bcsstm25", "it": 1336, "res": 4.0e-6},
      {"serie": "bcsstm25", "it": 1340, "res": 7.9e-6},
      {"serie": "bcsstm25", "it": 1344, "res": 2.5e-6},
      {"serie": "bcsstm25", "it": 1348, "res": 1.26e-5},
      {"serie": "bcsstm25", "it": 1352, "res": 4.5e-6},
      {"serie": "bcsstm25", "it": 1356, "res": 1.6e-5},
      {"serie": "bcsstm25", "it": 1360, "res": 2.8e-6},
      {"serie": "bcsstm25", "it": 1364, "res": 1.1e-5},
      {"serie": "bcsstm25", "it": 1368, "res": 3.5e-6},
      {"serie": "bcsstm25", "it": 1372, "res": 8.9e-6},
      {"serie": "bcsstm25", "it": 1376, "res": 2.2e-6},
      {"serie": "bcsstm25", "it": 1380, "res": 1.8e-5},
      {"serie": "bcsstm25", "it": 1384, "res": 4.0e-6},
      {"serie": "bcsstm25", "it": 1388, "res": 1.0e-5},
      {"serie": "bcsstm25", "it": 1392, "res": 3.2e-6},
      {"serie": "bcsstm25", "it": 1396, "res": 1.26e-5},
      {"serie": "bcsstm25", "it": 1400, "res": 2.5e-6},
      {"serie": "bcsstm25", "it": 1404, "res": 1.1e-5},
      {"serie": "bcsstm25", "it": 1408, "res": 4.0e-6},
      {"serie": "bcsstm25", "it": 1412, "res": 1.4e-5},
      {"serie": "bcsstm25", "it": 1416, "res": 2.5e-6},
      {"serie": "bcsstm25", "it": 1420, "res": 8.9e-6},
      {"serie": "bcsstm25", "it": 1424, "res": 3.2e-6},
      {"serie": "bcsstm25", "it": 1428, "res": 2.2e-5},
      {"serie": "bcsstm25", "it": 1432, "res": 4.5e-6},
      {"serie": "bcsstm25", "it": 1436, "res": 1.0e-5},
      {"serie": "bcsstm25", "it": 1440, "res": 2.8e-6},
      {"serie": "bcsstm25", "it": 1444, "res": 1.26e-5},
      {"serie": "bcsstm25", "it": 1448, "res": 5.0e-6},
      {"serie": "bcsstm25", "it": 1452, "res": 1.6e-5},
      {"serie": "bcsstm25", "it": 1456, "res": 3.5e-6},
      {"serie": "bcsstm25", "it": 1460, "res": 7.9e-6},
      {"serie": "bcsstm25", "it": 1464, "res": 2.2e-6},
      {"serie": "bcsstm25", "it": 1468, "res": 1.1e-5},
      {"serie": "bcsstm25", "it": 1472, "res": 4.0e-6},
      {"serie": "bcsstm25", "it": 1476, "res": 1.4e-5},
      {"serie": "bcsstm25", "it": 1480, "res": 3.2e-6},
      {"serie": "bcsstm25", "it": 1484, "res": 1.26e-5},
      {"serie": "bcsstm25", "it": 1488, "res": 3.5e-6},
      {"serie": "bcsstm25", "it": 1492, "res": 1.0e-5},
      {"serie": "bcsstm25", "it": 1496, "res": 2.8e-6},
      {"serie": "bcsstm25", "it": 1500, "res": 1.6e-5},
      {"serie": "bcsstm25", "it": 1504, "res": 5.0e-6},
      {"serie": "bcsstm25", "it": 1508, "res": 8.9e-6},
      {"serie": "bcsstm25", "it": 1512, "res": 2.5e-6},
      {"serie": "bcsstm25", "it": 1516, "res": 1.1e-5},
      {"serie": "bcsstm25", "it": 1520, "res": 4.0e-6},
      {"serie": "bcsstm25", "it": 1524, "res": 1.4e-5},
      {"serie": "bcsstm25", "it": 1528, "res": 3.2e-6},
      {"serie": "bcsstm25", "it": 1532, "res": 7.1e-6},
      {"serie": "bcsstm25", "it": 1536, "res": 2.2e-6},
      {"serie": "bcsstm25", "it": 1540, "res": 1.26e-5},
      {"serie": "bcsstm25", "it": 1544, "res": 4.5e-6},
      {"serie": "bcsstm25", "it": 1548, "res": 1.8e-5},
      {"serie": "bcsstm25", "it": 1552, "res": 3.5e-6},
      {"serie": "bcsstm25", "it": 1556, "res": 1.0e-5},
      {"serie": "bcsstm25", "it": 1560, "res": 2.8e-6},
      {"serie": "bcsstm25", "it": 1564, "res": 1.0e-5},
      {"serie": "bcsstm25", "it": 1568, "res": 3.2e-6},
      {"serie": "bcsstm25", "it": 1572, "res": 1.4e-5},
      {"serie": "bcsstm25", "it": 1576, "res": 4.0e-6},
      {"serie": "bcsstm25", "it": 1580, "res": 7.9e-6},
      {"serie": "bcsstm25", "it": 1584, "res": 2.5e-6},
      {"serie": "bcsstm25", "it": 1588, "res": 1.26e-5},
      {"serie": "bcsstm25", "it": 1592, "res": 4.5e-6},
      {"serie": "bcsstm25", "it": 1596, "res": 1.6e-5},
      {"serie": "bcsstm25", "it": 1600, "res": 2.8e-6},
      {"serie": "bcsstm25", "it": 1604, "res": 1.1e-5},
      {"serie": "bcsstm25", "it": 1608, "res": 3.5e-6},
      {"serie": "bcsstm25", "it": 1612, "res": 8.9e-6},
      {"serie": "bcsstm25", "it": 1616, "res": 2.2e-6},
      {"serie": "bcsstm25", "it": 1620, "res": 1.8e-5},
      {"serie": "bcsstm25", "it": 1624, "res": 4.0e-6},
      {"serie": "bcsstm25", "it": 1628, "res": 1.0e-5},
      {"serie": "bcsstm25", "it": 1632, "res": 3.2e-6},
      {"serie": "bcsstm25", "it": 1636, "res": 1.26e-5},
      {"serie": "bcsstm25", "it": 1640, "res": 2.5e-6},
      {"serie": "bcsstm25", "it": 1644, "res": 1.6e-5},
      {"serie": "bcsstm25", "it": 1648, "res": 2.8e-6},
      {"serie": "bcsstm25", "it": 1652, "res": 1.0e-5},
      {"serie": "bcsstm25", "it": 1656, "res": 4.5e-6},
      {"serie": "bcsstm25", "it": 1660, "res": 1.26e-5},
      {"serie": "bcsstm25", "it": 1664, "res": 2.5e-6},
      {"serie": "bcsstm25", "it": 1668, "res": 1.8e-5},
      {"serie": "bcsstm25", "it": 1672, "res": 3.5e-6},
      {"serie": "bcsstm25", "it": 1676, "res": 8.9e-6},
      {"serie": "bcsstm25", "it": 1680, "res": 4.0e-6},
      {"serie": "bcsstm25", "it": 1684, "res": 1.1e-5},
      {"serie": "bcsstm25", "it": 1688, "res": 2.2e-6},
      {"serie": "bcsstm25", "it": 1692, "res": 1.4e-5},
      {"serie": "bcsstm25", "it": 1696, "res": 3.2e-6},
      {"serie": "bcsstm25", "it": 1700, "res": 1.0e-5},
      {"serie": "bcsstm25", "it": 1704, "res": 5.0e-6},
      {"serie": "bcsstm25", "it": 1708, "res": 1.26e-5},
      {"serie": "bcsstm25", "it": 1712, "res": 2.8e-6},
      {"serie": "bcsstm25", "it": 1716, "res": 2.0e-5},
      {"serie": "bcsstm25", "it": 1720, "res": 3.5e-6},
      {"serie": "bcsstm25", "it": 1724, "res": 1.4e-5},
      {"serie": "bcsstm25", "it": 1728, "res": 4.5e-6},
      {"serie": "bcsstm25", "it": 1732, "res": 1.1e-5},
      {"serie": "bcsstm25", "it": 1736, "res": 2.8e-6},
      {"serie": "bcsstm25", "it": 1740, "res": 2.2e-5},
      {"serie": "bcsstm25", "it": 1744, "res": 3.5e-6},
      {"serie": "bcsstm25", "it": 1748, "res": 1.0e-5},
      {"serie": "bcsstm25", "it": 1752, "res": 5.0e-6},
      {"serie": "bcsstm25", "it": 1756, "res": 1.26e-5},
      {"serie": "bcsstm25", "it": 1760, "res": 2.5e-6},
      {"serie": "bcsstm25", "it": 1764, "res": 8.9e-6},
      {"serie": "bcsstm25", "it": 1768, "res": 4.0e-6},
      {"serie": "bcsstm25", "it": 1772, "res": 1.6e-5},
      {"serie": "bcsstm25", "it": 1776, "res": 3.2e-6},
      {"serie": "bcsstm25", "it": 1780, "res": 1.1e-5},
      {"serie": "bcsstm25", "it": 1784, "res": 2.2e-6},
      {"serie": "bcsstm25", "it": 1788, "res": 1.4e-5},
      {"serie": "bcsstm25", "it": 1792, "res": 3.5e-6},
      {"serie": "bcsstm25", "it": 1796, "res": 1.0e-5},
      {"serie": "bcsstm25", "it": 1800, "res": 2.8e-6}
    ]
  },
  "config": {
    "font": "Liberation Sans",
    "view": {"stroke": "#262626", "strokeWidth": 1},
    "axis": {
      "grid": false,
      "domain": false,
      "labelFont": "Liberation Sans",
      "labelFontSize": 11,
      "labelColor": "#262626",
      "titleFont": "Liberation Sans",
      "titleFontSize": 13,
      "titleFontWeight": "normal",
      "titleColor": "#262626",
      "tickColor": "#262626",
      "tickSize": -4
    },
    "axisX": {"labelPadding": 13, "titlePadding": 4},
    "axisY": {"labelPadding": 7, "labelFontSize": 12, "titlePadding": 4},
    "title": {"font": "Liberation Sans", "fontSize": 13.5, "fontWeight": "bold", "color": "#000000", "offset": -1, "anchor": "middle"},
    "legend": {
      "title": null,
      "symbolType": "stroke",
      "symbolSize": 1369,
      "symbolStrokeWidth": 1,
      "clipHeight": 15,
      "rowPadding": 0,
      "labelOffset": 3,
      "labelFont": "Liberation Sans",
      "labelFontSize": 11,
      "labelColor": "#262626",
      "strokeColor": "#262626",
      "fillColor": "white",
      "padding": 3,
      "cornerRadius": 0
    },
    "concat": {"spacing": 74}
  },
  "resolve": {"scale": {"color": "independent", "x": "independent", "y": "independent"}, "legend": {"color": "independent"}},
  "hconcat": [
    {
      "width": 401,
      "height": 317,
      "title": "Gradiente Conjugado sin precondicionamiento",
      "layer": [
        {
          "data": {"name": "res"},
          "mark": {"type": "line", "strokeWidth": 1, "clip": true},
          "encoding": {
            "x": {"field": "it", "type": "quantitative", "scale": {"domain": [0, 1800], "nice": false},
                  "axis": {"values": [0, 200, 400, 600, 800, 1000, 1200, 1400, 1600, 1800], "format": "d", "title": "Numero de iteraciones"}},
            "y": {"field": "res", "type": "quantitative", "scale": {"type": "log", "domain": [1e-20, 1], "nice": false},
                  "axis": {"values": [1e-20, 1e-19, 1e-18, 1e-17, 1e-16, 1e-15, 1e-14, 1e-13, 1e-12, 1e-11, 1e-10, 1e-9, 1e-8, 1e-7, 1e-6, 1e-5, 1e-4, 1e-3, 1e-2, 1e-1, 1],
                           "labelOverlap": false, "title": "Residuo relativo",
                           "labelExpr": "round(log(datum.value)/LN10)==0?'10⁰':round(log(datum.value)/LN10)==-5?'10⁻⁵':round(log(datum.value)/LN10)==-10?'10⁻¹⁰':round(log(datum.value)/LN10)==-15?'10⁻¹⁵':round(log(datum.value)/LN10)==-20?'10⁻²⁰':''"}},
            "color": {"field": "serie", "type": "nominal",
                      "scale": {"domain": ["bcsstk01", "bcsstm02", "nos3", "bcsstk27", "bcsstm25"], "range": ["#0072BD", "#D95319", "#EDB120", "#7E2F8E", "#77AC30"]},
                      "legend": {"orient": "bottom-right", "offset": 7}}
          }
        },
        {
          "data": {"name": "tol"},
          "mark": {"type": "rule", "color": "#FF5A5A", "opacity": 0.7, "strokeWidth": 1.2, "strokeDash": [8, 5]},
          "encoding": {"y": {"field": "tol", "type": "quantitative", "axis": null}}
        },
        {
          "data": {"name": "res"},
          "mark": {"type": "point", "opacity": 0},
          "encoding": {
            "x": {"field": "it", "type": "quantitative", "axis": {"orient": "top", "labels": false, "title": null, "values": [0, 200, 400, 600, 800, 1000, 1200, 1400, 1600, 1800]}},
            "y": {"field": "res", "type": "quantitative", "axis": {"orient": "right", "labels": false, "title": null, "values": [1e-20, 1e-19, 1e-18, 1e-17, 1e-16, 1e-15, 1e-14, 1e-13, 1e-12, 1e-11, 1e-10, 1e-9, 1e-8, 1e-7, 1e-6, 1e-5, 1e-4, 1e-3, 1e-2, 1e-1, 1]}}
          }
        }
      ],
      "resolve": {"axis": {"x": "independent", "y": "independent"}}
    },
    {
      "width": 401,
      "height": 317,
      "title": "Gradiente Conjugado sin precondicionamiento",
      "layer": [
        {
          "data": {"name": "res"},
          "transform": [{"filter": {"field": "serie", "oneOf": ["bcsstk01", "bcsstm02", "nos3"]}}],
          "mark": {"type": "line", "strokeWidth": 1, "clip": true},
          "encoding": {
            "x": {"field": "it", "type": "quantitative", "scale": {"domain": [0, 350], "nice": false},
                  "axis": {"values": [0, 50, 100, 150, 200, 250, 300, 350], "format": "d", "title": "Numero de iteraciones"}},
            "y": {"field": "res", "type": "quantitative", "scale": {"type": "log", "domain": [1e-20, 1], "nice": false},
                  "axis": {"values": [1e-20, 1e-19, 1e-18, 1e-17, 1e-16, 1e-15, 1e-14, 1e-13, 1e-12, 1e-11, 1e-10, 1e-9, 1e-8, 1e-7, 1e-6, 1e-5, 1e-4, 1e-3, 1e-2, 1e-1, 1],
                           "labelOverlap": false, "title": "Residuo relativo",
                           "labelExpr": "round(log(datum.value)/LN10)==0?'10⁰':round(log(datum.value)/LN10)==-5?'10⁻⁵':round(log(datum.value)/LN10)==-10?'10⁻¹⁰':round(log(datum.value)/LN10)==-15?'10⁻¹⁵':round(log(datum.value)/LN10)==-20?'10⁻²⁰':''"}},
            "color": {"field": "serie", "type": "nominal",
                      "scale": {"domain": ["bcsstk01", "bcsstm02", "nos3"], "range": ["#0072BD", "#D95319", "#EDB120"]},
                      "legend": {"orient": "top-right", "offset": 6}}
          }
        },
        {
          "data": {"name": "tol"},
          "mark": {"type": "rule", "color": "#FF5A5A", "opacity": 0.7, "strokeWidth": 1.2, "strokeDash": [8, 5]},
          "encoding": {"y": {"field": "tol", "type": "quantitative", "axis": null}}
        },
        {
          "data": {"name": "res"},
          "transform": [{"filter": {"field": "serie", "oneOf": ["bcsstk01", "bcsstm02", "nos3"]}}],
          "mark": {"type": "point", "opacity": 0},
          "encoding": {
            "x": {"field": "it", "type": "quantitative", "axis": {"orient": "top", "labels": false, "title": null, "values": [0, 50, 100, 150, 200, 250, 300, 350]}},
            "y": {"field": "res", "type": "quantitative", "axis": {"orient": "right", "labels": false, "title": null, "values": [1e-20, 1e-19, 1e-18, 1e-17, 1e-16, 1e-15, 1e-14, 1e-13, 1e-12, 1e-11, 1e-10, 1e-9, 1e-8, 1e-7, 1e-6, 1e-5, 1e-4, 1e-3, 1e-2, 1e-1, 1]}}
          }
        }
      ],
      "resolve": {"axis": {"x": "independent", "y": "independent"}}
    }
  ]
}
